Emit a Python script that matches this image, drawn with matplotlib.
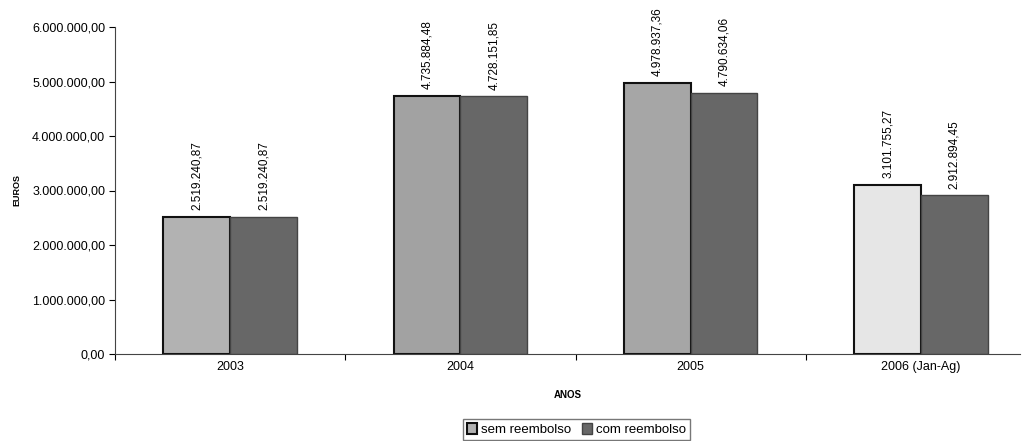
import matplotlib.pyplot as plt
import numpy as np

# dados
anos = ["2003", "2004", "2005", "2006 (Jan-Ag)"]
sem_reembolso = [2519240.87, 4735884.48, 4978937.36, 3101755.27]
com_reembolso = [2519240.87, 4728151.85, 4790634.06, 2912894.45]
yticks = [0, 1000000, 2000000, 3000000, 4000000, 5000000, 6000000]


def fmt_pt(v):
    s = f"{v:,.2f}"
    return s.replace(",", "X").replace(".", ",").replace("X", ".")


plt.rcParams["font.family"] = ["Liberation Sans", "DejaVu Sans"]

fig = plt.figure(figsize=(10.23, 4.41), dpi=100)
ax = fig.add_axes([115 / 1023, 1 - 354 / 441, 905 / 1023, 327 / 441])

x = np.arange(len(anos))
w = 0.29
cores_sem = ["#b2b2b2", "#a2a2a2", "#a6a6a6", "#e6e6e6"]
ax.bar(x - w / 2, sem_reembolso, w, color=cores_sem, edgecolor="#111111",
       linewidth=1.5, label="sem reembolso")
ax.bar(x + w / 2, com_reembolso, w, color="#676767", edgecolor="#444444",
       linewidth=1.0, label="com reembolso")

for xi, v in zip(x - w / 2, sem_reembolso):
    ax.text(xi, v + 120000, fmt_pt(v), rotation=90, ha="center",
            va="bottom", fontsize=8.5)
for xi, v in zip(x + w / 2, com_reembolso):
    ax.text(xi, v + 120000, fmt_pt(v), rotation=90, ha="center",
            va="bottom", fontsize=8.5)

ax.set_ylim(0, 6000000)
ax.set_xlim(-0.5, 3.43)
ax.set_yticks(yticks)
ax.set_yticklabels([fmt_pt(v) for v in yticks], fontsize=9)
ax.set_xticks(x)
ax.set_xticklabels(anos, fontsize=9)
ax.tick_params(axis="x", length=0, pad=5)
ax.tick_params(axis="y", length=4, width=0.8, pad=3)

# marcas entre categorias
ax.set_xticks(np.arange(-0.5, 3.5, 1.0), minor=True)
ax.tick_params(axis="x", which="minor", length=4, width=0.8)

for s in ["top", "right"]:
    ax.spines[s].set_visible(False)
ax.spines["left"].set_color("#444444")
ax.spines["bottom"].set_color("#444444")

ax.set_ylabel("EUROS", fontsize=6.5, fontweight="bold", labelpad=8)
ax.set_xlabel("ANOS", fontsize=7, fontweight="bold", labelpad=12)

ax.legend(loc="upper center", bbox_to_anchor=(0.51, -0.18), ncol=2,
          fontsize=9.5, frameon=True, fancybox=False, edgecolor="#555555",
          handlelength=0.8, handleheight=0.8, handletextpad=0.3,
          columnspacing=0.8, borderpad=0.3)

fig.savefig("out.png", dpi=100)
